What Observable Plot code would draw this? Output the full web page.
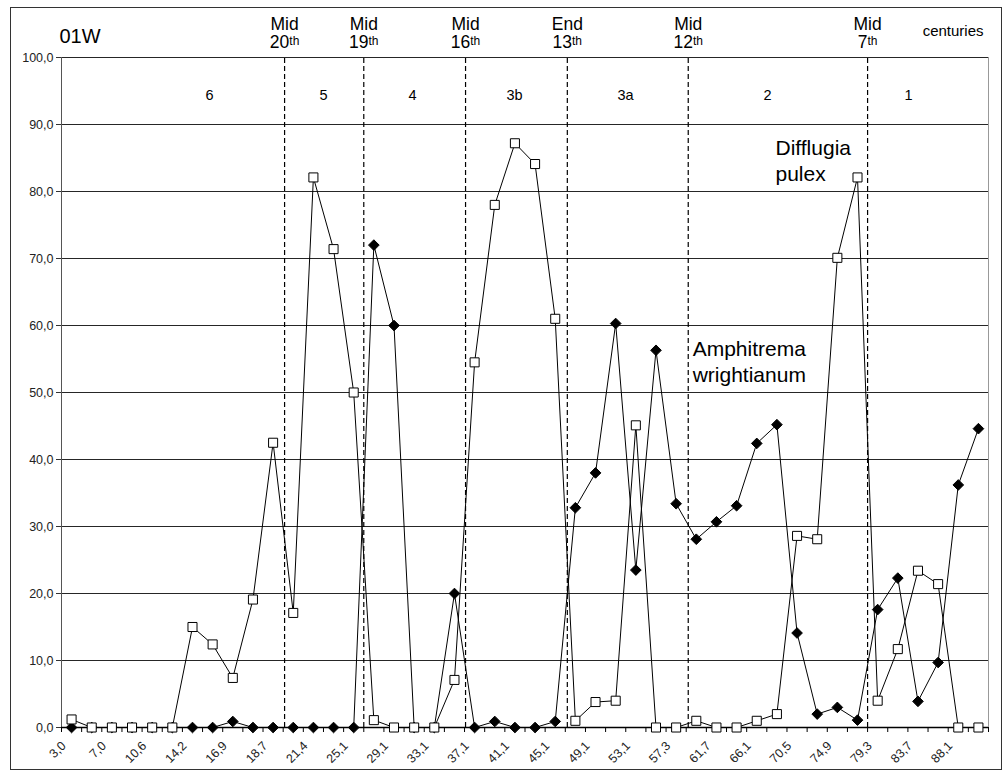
<!DOCTYPE html>
<html><head><meta charset="utf-8">
<script src="https://cdn.jsdelivr.net/npm/d3@7"></script>
<script src="https://cdn.jsdelivr.net/npm/@observablehq/plot@0.6"></script>
<style>body{margin:0;background:#fff}</style>
</head><body><div id="chart"></div>
<script>
// tick labels (depth, cm) shown for every other sample
const depthLabels = ["3,0","7,0","10,6","14,2","16,9","18,7","21,4","25,1","29,1","33,1","37,1","41,1","45,1","49,1","53,1","57,3","61,7","66,1","70,5","74,9","79,3","83,7","88,1"];
// series values (%), one per sample, 46 samples
const difflugiaPulex = [1.2,0,0,0,0,0, 15.0,12.4,7.4,19.1,42.5,17.1, 82.1,71.4,50.0,1.1,0,0, 0,7.1,54.5,78.0,87.2,84.1, 61.0,1.0,3.8,4.0,45.1,0, 0,1.0,0,0,1.0,2.0, 28.6,28.1,70.1,82.1,4.0,11.7, 23.4,21.4,0,0];
const amphitrema = [0,0,0,0,0,0, 0,0,0.9,0,0,0, 0,0,0,72.0,60.0,0, 0,20.0,0,0.9,0,0, 0.9,32.8,38.0,60.3,23.5,56.3, 33.4,28.1,30.7,33.1,42.4,45.2, 14.1,2.0,3.0,1.1,17.6,22.3, 3.9,9.7,36.2,44.6];
// century boundaries (position in sample index units)
const centuryTop = ["Mid","Mid","Mid","End","Mid","Mid"];
const centuryNum = ["20","19","16","13","12","7"];
const centurySup = "th";
const centuryPos = [10.57,14.5,19.55,24.6,30.6,39.5];
// zones
const zoneNames = ["6","5","4","3b","3a","2","1"];
const zonePos = [6.84,12.5,16.92,21.98,27.49,34.54,41.53];
// species annotations
const speciesNames = ["Difflugia\npulex","Amphitrema\nwrightianum"];
const speciesPos = [[34.93,81.5],[30.82,51.5]];

const font = "'Liberation Sans', Arial, Helvetica, sans-serif";
const idx = d3.range(difflugiaPulex.length);
const dp = idx.map(i => ({i, v: difflugiaPulex[i]}));
const am = idx.map(i => ({i, v: amphitrema[i]}));
const labs = depthLabels.map((t, k) => ({i: 2 * k, t}));
const cents = centuryPos.map((p, k) => ({i: p, top: centuryTop[k], num: centuryNum[k] + centurySup}));
const zones = zonePos.map((p, k) => ({i: p, t: zoneNames[k]}));
const species = speciesNames.map((t, k) => ({i: speciesPos[k][0], v: speciesPos[k][1], t}));

const svg = Plot.plot({
  width: 1006, height: 771,
  marginLeft: 61, marginRight: 18, marginTop: 57, marginBottom: 44,
  style: {fontFamily: font, background: "white", color: "black", overflow: "visible"},
  x: {domain: [-0.5, 45.5]},
  y: {domain: [0, 100]},
  marks: [
    Plot.gridY(d3.range(10, 101, 10), {stroke: "#000", strokeOpacity: 0.85, strokeWidth: 1}),
    Plot.ruleX([45.5], {stroke: "#999"}),
    Plot.ruleX([-0.5], {stroke: "#555"}),
    Plot.ruleX(cents, {x: "i", y1: 0, y2: 100.3, stroke: "#000", strokeWidth: 1.2, strokeDasharray: "5,3"}),
    Plot.ruleY([0], {stroke: "#000", strokeWidth: 1.5}),
    Plot.line(am, {x: "i", y: "v", stroke: "#000", strokeWidth: 1}),
    Plot.dot(am, {x: "i", y: "v", symbol: "diamond2", r: 4.8, fill: "#000", stroke: "#000", strokeWidth: 1}),
    Plot.line(dp, {x: "i", y: "v", stroke: "#000", strokeWidth: 1}),
    Plot.dot(dp, {x: "i", y: "v", symbol: "square", r: 5.1, fill: "#fff", stroke: "#000", strokeWidth: 1}),
    Plot.axisY({ticks: d3.range(0, 101, 10), tickFormat: d => d.toFixed(1).replace(".", ","), tickSize: 5, tickPadding: 3, fontSize: 12.5, label: null, stroke: "#333", fill: "#222"}),
    Plot.axisX({ticks: d3.range(-0.5, 46, 1), tickFormat: () => "", tickSize: 5, label: null, stroke: "#000"}),
    Plot.text(labs, {x: "i", text: "t", frameAnchor: "bottom", dx: -5, dy: 19, rotate: -45, textAnchor: "end", lineAnchor: "bottom", fontSize: 12.5, fill: "#222"}),
    Plot.text(zones, {x: "i", text: "t", frameAnchor: "top", dy: 42, lineAnchor: "bottom", fontSize: 14.5, fill: "#000"}),
    Plot.text(cents, {x: "i", text: "top", frameAnchor: "top", dy: -28, lineAnchor: "bottom", fontSize: 17.5, fill: "#000"}),
    Plot.text(cents, {x: "i", text: "num", frameAnchor: "top", dy: -10, lineAnchor: "bottom", fontSize: 17.5, fill: "#000"}),
    Plot.text(species, {x: "i", y: "v", text: "t", textAnchor: "start", lineAnchor: "bottom", lineHeight: 1.24, fontSize: 21, fill: "#000"}),
    Plot.text(["01W"], {frameAnchor: "top-left", dx: -2, dy: -15, textAnchor: "start", lineAnchor: "bottom", fontSize: 20, fill: "#000"}),
    Plot.text(["centuries"], {frameAnchor: "top-right", dx: -5, dy: -22, textAnchor: "end", lineAnchor: "bottom", fontSize: 15, fill: "#000"})
  ]
});

const s = d3.select(svg);
s.selectAll("text").each(function () {
  if (this.querySelector("tspan")) return;
  const full = this.textContent;
  const m = full.match(/^(\d+)th$/);
  if (!m) return;
  this.textContent = "";
  d3.select(this).append("tspan").text(m[1]);
  d3.select(this).append("tspan").attr("font-size", 12).attr("dy", "-0.25em").text(centurySup);
});
s.insert("rect", ":first-child").attr("x", 10.5).attr("y", 7.5).attr("width", 991).attr("height", 762)
  .attr("fill", "none").attr("stroke", "#333").attr("stroke-width", 1);
document.getElementById("chart").appendChild(svg);
</script>
</body></html>
